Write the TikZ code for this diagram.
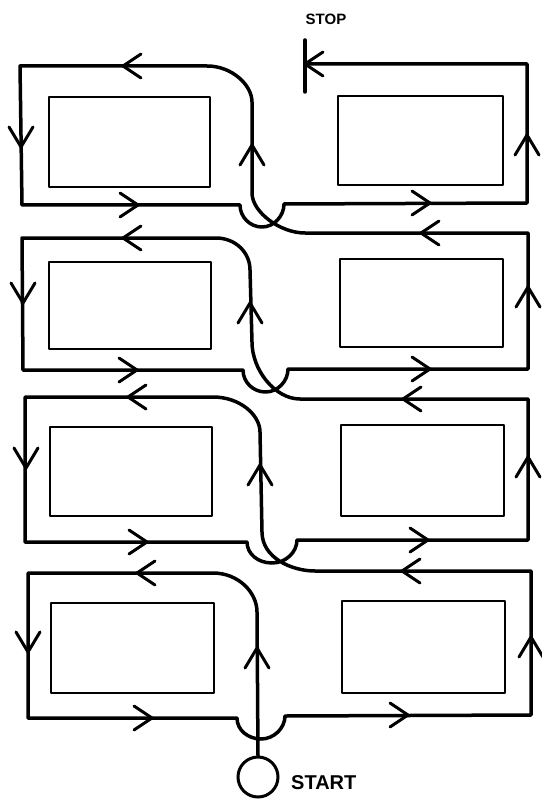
\documentclass[tikz,border=0pt]{standalone}
\usepackage{fontspec}
\setmainfont{Liberation Sans}
\begin{document}
\begin{tikzpicture}[x=1pt,y=-1pt,
  route/.style={line width=3.5pt,line join=round,line cap=round},
  bay/.style={line width=2.2pt,line join=round},
  chevron/.style={line width=3pt,line cap=round,line join=round},
  caption/.style={inner sep=0pt},
  pics/chevL/.style={code={\draw[chevron] (18,-12) -- (0,0) -- (18,12);}},
  pics/chevR/.style={code={\draw[chevron] (-18,-12) -- (0,0) -- (-18,12);}},
  pics/chevU/.style={code={\draw[chevron] (-12,20) -- (0,0) -- (12,20);}},
  pics/chevD/.style={code={\draw[chevron] (-12,-20) -- (0,0) -- (12,-20);}}]
\useasboundingbox (0,0) rectangle (541,802);

% parking bays
\draw[bay] (49,97) rectangle (210,187);
\draw[bay] (338,96) rectangle (503,185);
\draw[bay] (49,262) rectangle (211,349);
\draw[bay] (340,259) rectangle (503,347);
\draw[bay] (50,427) rectangle (212,516);
\draw[bay] (341,425) rectangle (504,516);
\draw[bay] (51,603) rectangle (214,693);
\draw[bay] (342,601) rectangle (505,693);

% start and stop
\node[draw,circle,line width=3pt,minimum size=40pt,inner sep=0pt] (start) at (258,777) {};
\node[caption,font=\bfseries\fontsize{20}{20}\selectfont,anchor=west] (starttext) at (291,783) {START};
\node[caption,font=\bfseries\fontsize{15}{15}\selectfont] (stoptext) at (326,19) {STOP};
\coordinate (stopbar) at (305,64);
\draw[route] (305,40) -- (305,92);

% the route, from start to stop
\draw[route] (start.north) -- (257,612)
  .. controls (257,592) and (238,573) .. (213,573) -- (28,573) -- (28,718) -- (237,718)
  .. controls (237,730) and (248,739) .. (261,739) .. controls (274,739) and (285,728) .. (285,716)
  -- (531,715) -- (531,571) -- (315,571)
  .. controls (292,571) and (262,558) .. (262,532)
  -- (260,432) .. controls (260,415) and (240,397) .. (213,397) -- (25,397) -- (25,542) -- (247,542)
  .. controls (247,554) and (258,563) .. (272,563) .. controls (286,563) and (297,552) .. (297,540)
  -- (528,540) -- (528,399) -- (300,399)
  .. controls (275,399) and (252,370) .. (252,342)
  -- (250,270) .. controls (250,252) and (235,238) .. (216,238) -- (22,238) -- (23,370) -- (243,370)
  .. controls (243,382) and (253,392) .. (265.5,392) .. controls (278,392) and (288,381) .. (288,369)
  -- (528,369) -- (528,233) -- (305,233)
  .. controls (280,233) and (252,212) .. (252,193)
  -- (252,102) .. controls (252,85) and (232,66) .. (207,66) -- (20,66) -- (22,205) -- (240,205)
  .. controls (240,217) and (250,227) .. (262,227) .. controls (274,227) and (284,216) .. (284,204)
  -- (527,203) -- (527,64) -- (stopbar);

% direction marks, row 1
\pic at (123,66) {chevL};
\pic at (21,147) {chevD};
\pic at (138,205) {chevR};
\pic at (252,145) {chevU};
\pic at (430,203) {chevR};
\pic at (527,135) {chevU};
\pic at (stopbar) {chevL};
% row 2
\pic at (123,238) {chevL};
\pic at (23,303) {chevD};
\pic at (137,370) {chevR};
\pic at (250,303) {chevU};
\pic at (421,233) {chevL};
\pic at (528,287) {chevU};
\pic at (430,369) {chevR};
% row 3
\pic at (128,397) {chevL};
\pic at (26,468) {chevD};
\pic at (147,542) {chevR};
\pic at (260,465) {chevU};
\pic at (403,399) {chevL};
\pic at (528,457) {chevU};
\pic at (428,540) {chevR};
% row 4
\pic at (137,573) {chevL};
\pic at (28,652) {chevD};
\pic at (152,718) {chevR};
\pic at (257,648) {chevU};
\pic at (402,571) {chevL};
\pic at (531,637) {chevU};
\pic at (408,715) {chevR};
\end{tikzpicture}
\end{document}
